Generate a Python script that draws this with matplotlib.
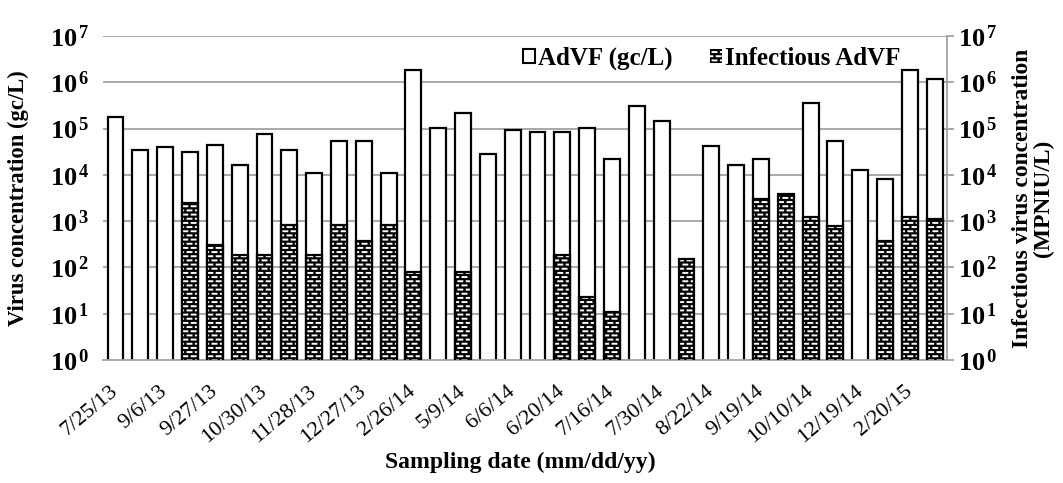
import numpy as np
import matplotlib
matplotlib.use("Agg")
import matplotlib.pyplot as plt
import matplotlib.hatch as mhatch
from matplotlib.path import Path
from matplotlib.patches import Patch
from matplotlib.ticker import FixedLocator, FuncFormatter, NullLocator

nan = np.nan

# AdVF genome copies (gc/L) per sampling event
advf_gc = [1.8e5, 3.4e4, 3.9e4, 3.1e4, 4.4e4, 1.6e4, 7.5e4, 3.4e4, 1.1e4,
           5.4e4, 5.4e4, 1.1e4, 1.8e6, 1.05e5, 2.2e5, 2.8e4, 9.3e4, 8.3e4,
           8.3e4, 1.05e5, 2.2e4, 3.1e5, 1.45e5, nan, 4.3e4, 1.6e4, 2.2e4,
           nan, 3.5e5, 5.4e4, 1.3e4, 8.1e3, 1.8e6, 1.17e6]

# Infectious AdVF (MPNIU/L) per sampling event
infectious = [nan, nan, nan, 2.5e3, 300, 190, 190, 810, 190, 810, 380, 810,
              81, nan, 81, nan, nan, nan, 190, 23, 10.7, nan, nan, 152, nan,
              nan, 3.0e3, 3.9e3, 1.25e3, 780, nan, 380, 1.25e3, 1.1e3]

# Sampling dates shown on the axis (every second event)
date_labels = ['7/25/13', '9/6/13', '9/27/13', '10/30/13', '11/28/13',
               '12/27/13', '2/26/14', '5/9/14', '6/6/14', '6/20/14',
               '7/16/14', '7/30/14', '8/22/14', '9/19/14', '10/10/14',
               '12/19/14', '2/20/15']

decades = [0, 1, 2, 3, 4, 5, 6, 7]


# Brick-like rows of short dashes used as the fill pattern for '-'
class DashRowHatch(mhatch.HatchPatternBase):
    def __init__(self, hatch, density):
        self.num_rows = int((hatch.count('-') + hatch.count('+')) * density)
        self.per_row = 12
        self.num_vertices = self.num_rows * self.per_row * 2

    def set_vertices_and_codes(self, vertices, codes):
        if self.num_rows == 0:
            return
        dash = 0.04
        step = 1.0 / self.per_row
        k = 0
        for r in range(self.num_rows):
            y = (r + 0.5) / self.num_rows
            shift = 0.5 * step if r % 2 else 0.0
            for c in range(self.per_row):
                x0 = (c * step + shift) % 1.0
                x1 = x0 + dash
                vertices[k] = (x0, y)
                vertices[k + 1] = (x1, y)
                codes[k] = Path.MOVETO
                codes[k + 1] = Path.LINETO
                k += 2


mhatch._hatch_types = [DashRowHatch if t is mhatch.HorizontalHatch else t
                       for t in mhatch._hatch_types]

plt.rcParams['font.family'] = ['Liberation Serif', 'DejaVu Serif']
plt.rcParams['mathtext.fontset'] = 'custom'
plt.rcParams['mathtext.rm'] = 'Liberation Serif'
plt.rcParams['mathtext.bf'] = 'Liberation Serif:bold'
plt.rcParams['mathtext.it'] = 'Liberation Serif:italic'
plt.rcParams['hatch.linewidth'] = 1.4

fig = plt.figure(figsize=(10.63, 4.83), dpi=100)
ax = fig.add_axes([0.097, 0.2547, 0.794, 0.6708])

x = np.arange(len(advf_gc))
width = 0.64
grid_col = '#a3a3a3'

ax.set_yscale('log')
ax.set_ylim(1, 1e7)
ax.set_xlim(-0.5, len(advf_gc) - 0.5)

for d in decades:
    ax.axhline(10.0 ** d, color=grid_col, lw=1.3, zorder=0)

ax.bar(x, advf_gc, width=width, color='white', edgecolor='black',
       linewidth=1.6, zorder=2)
ax.bar(x, infectious, width=width, color='black', edgecolor='white',
       hatch='----', linewidth=0, zorder=3)
ax.bar(x, infectious, width=width, fill=False, edgecolor='black',
       linewidth=1.6, zorder=4)

fmt = FuncFormatter(
    lambda v, p: r'$\mathbf{10}^{\,\mathbf{%d}}$' % round(np.log10(v)))
ax.yaxis.set_major_locator(FixedLocator([10.0 ** d for d in decades]))
ax.yaxis.set_major_formatter(fmt)
ax.yaxis.set_minor_locator(NullLocator())
ax.tick_params(axis='y', length=0, labelsize=19, pad=10)

ax.set_xticks(x[::2])
ax.set_xticklabels(date_labels, rotation=40, ha='right', va='center',
                   rotation_mode='anchor', fontsize=16)
ax.tick_params(axis='x', length=0, pad=21)

for s in ['top', 'left', 'right']:
    ax.spines[s].set_visible(False)
ax.spines['bottom'].set_color(grid_col)
ax.spines['bottom'].set_linewidth(1.3)

ax2 = ax.twinx()
ax2.set_yscale('log')
ax2.set_ylim(1, 1e7)
ax2.yaxis.set_major_locator(FixedLocator([10.0 ** d for d in decades]))
ax2.yaxis.set_major_formatter(fmt)
ax2.yaxis.set_minor_locator(NullLocator())
ax2.tick_params(axis='y', length=5, width=1.3, color=grid_col,
                labelsize=19, pad=3)
for s in ['top', 'left', 'bottom']:
    ax2.spines[s].set_visible(False)
ax2.spines['right'].set_color(grid_col)
ax2.spines['right'].set_linewidth(1.3)

handles = [Patch(facecolor='white', edgecolor='black', linewidth=1.5),
           Patch(facecolor='black', edgecolor='white', hatch='----',
                 linewidth=0)]
ax.legend(handles, ['AdVF (gc/L)', 'Infectious AdVF'], ncol=2,
          loc='center', bbox_to_anchor=(0.7215, 0.93), frameon=False,
          prop={'weight': 'bold', 'size': 18}, handlelength=0.45,
          handleheight=0.45, handletextpad=0.15, columnspacing=1.5,
          borderpad=0.1)

fig.text(18 / 1063, 0.59, 'Virus concentration (gc/L)', rotation=90,
         ha='center', va='center', fontsize=16.3, fontweight='bold')
fig.text(1033 / 1063, 0.59, 'Infectious virus concentration\n(MPNIU/L)',
         rotation=90, ha='center', va='center', fontsize=16.9,
         fontweight='bold', multialignment='center', linespacing=1.0)
fig.text(520 / 1063, 1 - 462 / 483, 'Sampling date (mm/dd/yy)',
         ha='center', va='center', fontsize=17, fontweight='bold')

fig.savefig('out.png', dpi=100)
